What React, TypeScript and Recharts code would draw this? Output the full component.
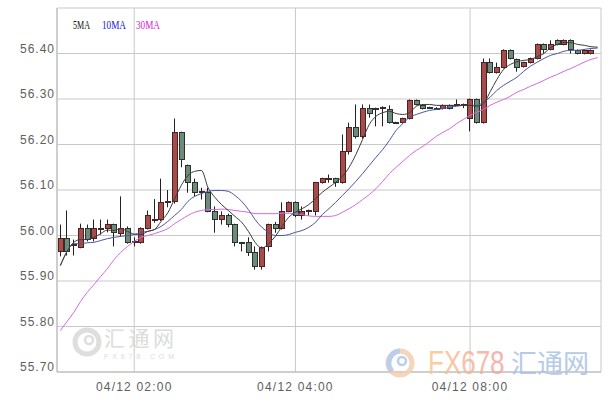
import React from 'react';
import { ComposedChart, Bar, Line, XAxis, YAxis, CartesianGrid } from 'recharts';

const TIMES = [
  '01:05','01:10','01:15','01:20','01:25','01:30','01:35','01:40','01:45','01:50',
  '01:55','02:00','02:05','02:10','02:15','02:20','02:25','02:30','02:35','02:40',
  '02:45','02:50','02:55','03:00','03:05','03:10','03:15','03:20','03:25','03:30',
  '03:35','03:40','03:45','03:50','03:55','04:00','05:55','06:00','06:05','06:10',
  '06:15','06:20','06:25','06:30','06:35','06:40','06:45','06:50','06:55','07:00',
  '07:05','07:10','07:15','07:20','07:25','07:30','07:35','07:40','07:45','07:50',
  '07:55','08:00','08:05','08:10','08:15','08:20','08:25','08:30','08:35','08:40',
  '08:45','08:50','08:55','09:00','09:05','09:10','09:15','09:20','09:25','09:30',
  '09:35',
];
const DATE = '04/12';

const OPEN = [
  55.965, 55.993, 55.979, 55.974, 56.015, 55.993, 56.014, 56.015, 56.024, 56.004,
  56.015, 55.985, 55.985, 56.015, 56.034, 56.035, 56.072, 56.074, 56.226, 56.154,
  56.116, 56.095, 56.094, 56.053, 56.035, 56.044, 56.024, 55.985, 55.985, 55.963,
  55.932, 55.976, 56.024, 56.015, 56.053, 56.073, 56.044, 56.052, 56.053, 56.116,
  56.124, 56.125, 56.116, 56.185, 56.237, 56.218, 56.279, 56.280, 56.279, 56.277,
  56.249, 56.248, 56.257, 56.297, 56.286, 56.281, 56.280, 56.279, 56.286, 56.288,
  56.285, 56.257, 56.299, 56.248, 56.380, 56.358, 56.369, 56.407, 56.387, 56.371,
  56.380, 56.389, 56.420, 56.409, 56.429, 56.420, 56.429, 56.407, 56.400, 56.400,
];
const HIGH = [
  56.024, 56.055, 55.991, 56.026, 56.024, 56.035, 56.035, 56.035, 56.026, 56.086,
  56.020, 55.996, 56.018, 56.055, 56.080, 56.125, 56.100, 56.257, 56.228, 56.156,
  56.125, 56.105, 56.105, 56.064, 56.053, 56.048, 56.026, 55.986, 55.996, 55.976,
  55.976, 56.026, 56.030, 56.073, 56.075, 56.075, 56.064, 56.057, 56.118, 56.127,
  56.134, 56.127, 56.222, 56.248, 56.288, 56.288, 56.288, 56.281, 56.284, 56.286,
  56.250, 56.259, 56.299, 56.299, 56.288, 56.283, 56.282, 56.288, 56.288, 56.299,
  56.290, 56.301, 56.301, 56.389, 56.389, 56.380, 56.409, 56.409, 56.389, 56.382,
  56.391, 56.422, 56.422, 56.429, 56.431, 56.431, 56.431, 56.409, 56.409, 56.409,
];
const LOW = [
  55.954, 55.956, 55.956, 55.972, 55.987, 55.987, 56.002, 56.007, 55.976, 55.998,
  55.982, 55.976, 55.982, 56.013, 56.028, 56.032, 56.062, 56.070, 56.150, 56.094,
  56.086, 56.079, 56.051, 56.006, 56.024, 56.018, 55.976, 55.965, 55.955, 55.925,
  55.925, 55.965, 56.006, 56.013, 56.051, 56.040, 56.035, 56.044, 56.044, 56.114,
  56.116, 56.107, 56.114, 56.178, 56.213, 56.213, 56.259, 56.240, 56.240, 56.246,
  56.246, 56.246, 56.255, 56.286, 56.277, 56.278, 56.277, 56.277, 56.277, 56.286,
  56.280, 56.229, 56.246, 56.246, 56.356, 56.356, 56.367, 56.387, 56.360, 56.369,
  56.378, 56.387, 56.400, 56.407, 56.418, 56.418, 56.400, 56.398, 56.398, 56.398,
];
const CLOSE = [
  55.993, 55.965, 55.981, 56.015, 55.991, 56.015, 56.016, 56.024, 56.007, 56.015,
  55.985, 55.986, 56.015, 56.044, 56.036, 56.073, 56.074, 56.226, 56.167, 56.116,
  56.094, 56.097, 56.053, 56.035, 56.044, 56.024, 55.985, 55.984, 55.963, 55.932,
  55.974, 56.024, 56.015, 56.053, 56.073, 56.044, 56.053, 56.054, 56.116, 56.125,
  56.126, 56.116, 56.185, 56.237, 56.217, 56.279, 56.268, 56.278, 56.281, 56.248,
  56.248, 56.257, 56.297, 56.288, 56.279, 56.280, 56.279, 56.286, 56.279, 56.289,
  56.287, 56.299, 56.248, 56.380, 56.358, 56.369, 56.407, 56.389, 56.369, 56.380,
  56.389, 56.420, 56.409, 56.420, 56.420, 56.429, 56.409, 56.400, 56.407, 56.407,
];

const MA5 = [
  55.934, 55.965, 55.985, 55.991, 55.991, 55.996, 56.004, 56.012, 56.011, 56.015,
  56.009, 56.003, 56.002, 56.009, 56.013, 56.031, 56.050, 56.080, 56.110, 56.132,
  56.141, 56.143, 56.105, 56.084, 56.068, 56.055, 56.042, 56.029, 56.009, 55.985,
  55.972, 55.982, 55.998, 56.020, 56.040, 56.051, 56.059, 56.068, 56.081, 56.095,
  56.106, 56.117, 56.130, 56.150, 56.178, 56.211, 56.244, 56.262, 56.270, 56.273,
  56.268, 56.266, 56.270, 56.284, 56.288, 56.288, 56.286, 56.286, 56.286, 56.286,
  56.286, 56.286, 56.284, 56.290, 56.316, 56.343, 56.365, 56.376, 56.382, 56.385,
  56.387, 56.393, 56.400, 56.413, 56.420, 56.424, 56.424, 56.420, 56.418, 56.415,
  56.414,
];
const MA10 = [
  55.934, 55.965, 55.982, 55.982, 55.984, 55.985, 55.989, 55.993, 55.996, 55.998,
  56.000, 56.002, 56.007, 56.009, 56.013, 56.020, 56.031, 56.044, 56.057, 56.075,
  56.086, 56.092, 56.097, 56.099, 56.099, 56.097, 56.088, 56.075, 56.057, 56.035,
  56.018, 56.007, 56.000, 56.000, 56.002, 56.007, 56.011, 56.018, 56.029, 56.046,
  56.059, 56.073, 56.088, 56.103, 56.119, 56.136, 56.154, 56.172, 56.189, 56.209,
  56.231, 56.246, 56.260, 56.266, 56.271, 56.275, 56.277, 56.279, 56.282, 56.284,
  56.286, 56.286, 56.286, 56.293, 56.304, 56.319, 56.330, 56.339, 56.348, 56.361,
  56.372, 56.381, 56.389, 56.396, 56.400, 56.405, 56.407, 56.407, 56.409, 56.411,
  56.412,
];
const MA30 = [
  55.791, 55.811, 55.831, 55.855, 55.875, 55.892, 55.910, 55.927, 55.947, 55.963,
  55.976, 55.987, 55.996, 56.000, 56.004, 56.009, 56.015, 56.026, 56.035, 56.044,
  56.051, 56.055, 56.057, 56.057, 56.058, 56.057, 56.055, 56.053, 56.051, 56.048,
  56.048, 56.048, 56.048, 56.049, 56.049, 56.048, 56.046, 56.043, 56.042, 56.042,
  56.042, 56.044, 56.051, 56.059, 56.068, 56.079, 56.090, 56.103, 56.119, 56.136,
  56.150, 56.163, 56.176, 56.187, 56.196, 56.207, 56.218, 56.227, 56.235, 56.246,
  56.255, 56.264, 56.271, 56.277, 56.286, 56.293, 56.299, 56.306, 56.315, 56.321,
  56.328, 56.334, 56.341, 56.348, 56.354, 56.361, 56.367, 56.374, 56.381, 56.387,
  56.391,
];

const Y_TICKS = [55.7, 55.8, 55.9, 56.0, 56.1, 56.2, 56.3, 56.4, 56.5];
const Y_LABELED = [55.7, 55.8, 55.9, 56.0, 56.1, 56.2, 56.3, 56.4];
const X_TICKS = ['04/12 02:00', '04/12 04:00', '04/12 08:00'];
const LEGEND = [
  { name: '5MA', color: '#111111' },
  { name: '10MA', color: '#1a1ad0' },
  { name: '30MA', color: '#d61ed6' },
];

const data = TIMES.map((t, i) => ({
  t: DATE + ' ' + t,
  open: OPEN[i],
  high: HIGH[i],
  low: LOW[i],
  close: CLOSE[i],
  range: OPEN[i] == null ? null : [LOW[i], HIGH[i]],
  ma5: MA5[i],
  ma10: MA10[i],
  ma30: MA30[i],
}));

const Candle = (props: any) => {
  const { x, y, width, height, payload } = props;
  if (!payload || payload.open == null || height == null) return null;
  const { open, close, high, low } = payload;
  const k = height / (high - low);
  const yO = y + (high - open) * k;
  const yC = y + (high - close) * k;
  const c = Math.floor(x + width / 2) + 0.5;
  const up = close >= open;
  const top = Math.min(yO, yC);
  const h = Math.max(1, Math.abs(yO - yC));
  return (
    <g>
      <line x1={c} x2={c} y1={y} y2={y + height} stroke="#222" strokeWidth={1} />
      <rect
        x={c - 2.5}
        y={top}
        width={5}
        height={h}
        fill={up ? '#a84b4b' : '#6f897a'}
        stroke={up ? '#4a2222' : '#27342c'}
        strokeWidth={1}
        shapeRendering="crispEdges"
      />
    </g>
  );
};

const YTick = (props: any) => {
  const { x, y, payload } = props;
  if (!Y_LABELED.some((v) => Math.abs(v - payload.value) < 1e-6)) return null;
  return (
    <text x={x} y={y - 1} textAnchor="end" fontSize={12} fill="#5e5e5e"
      fontFamily="Liberation Sans, Arial, sans-serif" letterSpacing={1}>
      {Number(payload.value).toFixed(2)}
    </text>
  );
};

const XTick = (props: any) => {
  const { x, y, payload } = props;
  return (
    <text x={x} y={y} dy={11} textAnchor="middle" fontSize={12} fill="#5e5e5e"
      fontFamily="Liberation Sans, Arial, sans-serif" letterSpacing={1.2}>
      {payload.value}
    </text>
  );
};

export default function App() {
  return (
    <div style={{ position: 'absolute', left: 0, top: 0, width: 609, height: 404, background: '#fff' }}>
      <ComposedChart width={609} height={404} data={data}
        margin={{ top: 8, right: 8, bottom: 0, left: 0 }}>
        <CartesianGrid stroke="#c9c9c9" strokeWidth={1} />
        <XAxis dataKey="t" ticks={X_TICKS} interval={0} height={32}
          axisLine={{ stroke: '#b8b8b8' }} tickLine={false} tickSize={6} tick={<XTick />} />
        <YAxis type="number" domain={[55.7, 56.5]} ticks={Y_TICKS} width={57} interval={0}
          axisLine={{ stroke: '#b8b8b8' }} tickLine={false} tickSize={2} tickMargin={0}
          tick={<YTick />} allowDataOverflow />
        <YAxis yAxisId="r" orientation="right" width={0} tick={false} tickLine={false}
          axisLine={{ stroke: '#b8b8b8' }} />
        <Bar dataKey="range" shape={(p: any) => <Candle {...p} />} isAnimationActive={false} />
        <Line dataKey="ma30" type="monotone" stroke="#d56ad8" strokeWidth={1} dot={false} isAnimationActive={false} />
        <Line dataKey="ma10" type="monotone" stroke="#4a55a6" strokeWidth={1} dot={false} isAnimationActive={false} />
        <Line dataKey="ma5" type="monotone" stroke="#3c3c3c" strokeWidth={1} dot={false} isAnimationActive={false} />
      </ComposedChart>
      <svg width={609} height={404} style={{ position: 'absolute', left: 0, top: 0, pointerEvents: 'none' }}>
        <defs>
          <linearGradient id="fxg" x1="0" x2="1" y1="0" y2="0">
            <stop offset="0" stopColor="#f9c88f" />
            <stop offset="1" stopColor="#f3a3a3" />
          </linearGradient>
        </defs>
        {LEGEND.map((l, i) => (
          <text key={l.name} x={[73, 102, 136][i]} y={29} fontSize={13}
            fontFamily="Liberation Serif, serif" fill={l.color}
            textLength={[17, 24, 24][i]} lengthAdjust="spacingAndGlyphs">{l.name}</text>
        ))}
        <g opacity={0.75}>
          <circle cx={87} cy={342} r={12} fill="none" stroke="#d4d4d4" strokeWidth={5} />
          <circle cx={89} cy={340} r={4} fill="none" stroke="#d4d4d4" strokeWidth={2.5} />
          <text x={104} y={346} fontSize={21} fill="#d2d2d2" fontFamily="Noto Sans CJK SC, sans-serif"
            textLength={70} lengthAdjust="spacing">汇通网</text>
          <text x={104} y={359} fontSize={7} fill="#cfcfcf" fontFamily="Liberation Sans, sans-serif"
            textLength={70} lengthAdjust="spacing">FX678.COM</text>
        </g>
        <g opacity={0.85}>
          <circle cx={400} cy={363} r={12} fill="none" stroke="#f5cfae" strokeWidth={5} />
          <path d="M 392 371 A 12 12 0 0 1 400 351" fill="none" stroke="#aec6ea" strokeWidth={5} />
          <circle cx={402} cy={361} r={4} fill="none" stroke="#aec6ea" strokeWidth={2.5} />
          <text transform="translate(428 374) scale(1 1.3)" x={0} y={0} fontSize={26} fill="url(#fxg)"
            fontFamily="Liberation Sans, sans-serif">FX678</text>
          <text x={511} y={373} fontSize={26} fill="#a9c2e6" fontFamily="Noto Sans CJK SC, sans-serif">汇通网</text>
        </g>
      </svg>
    </div>
  );
}
